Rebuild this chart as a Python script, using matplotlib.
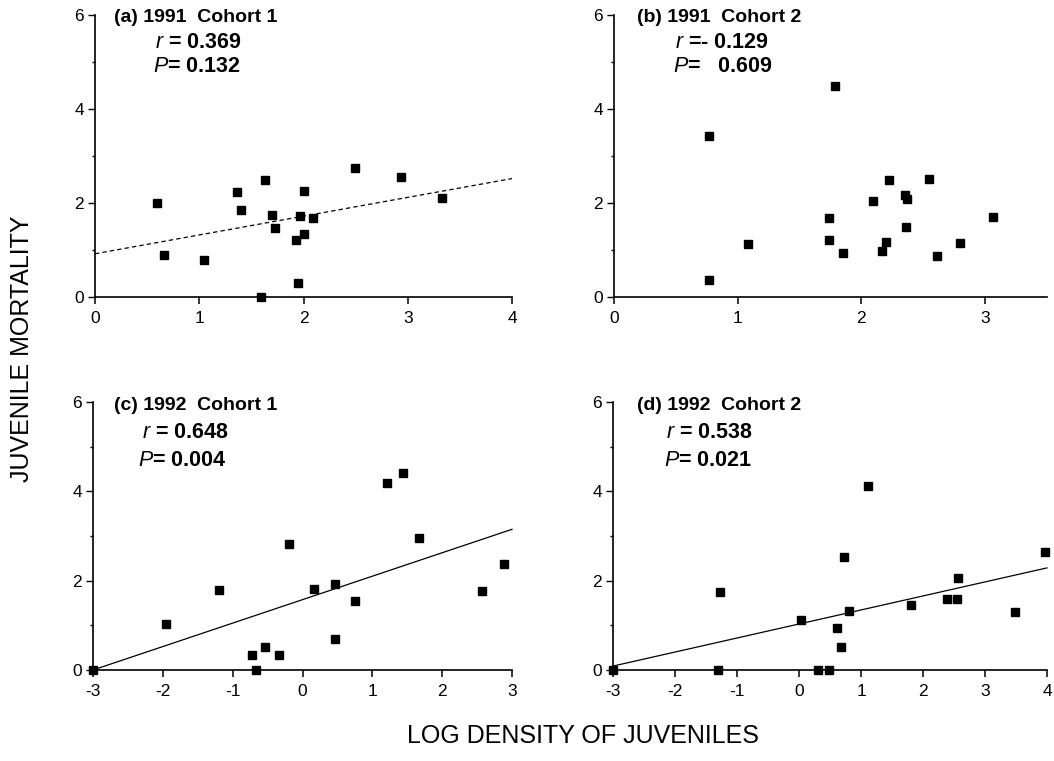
import matplotlib
matplotlib.use('Agg')
import matplotlib.pyplot as plt
import numpy as np

plt.rcParams['font.family'] = ['Liberation Sans', 'DejaVu Sans']
plt.rcParams['mathtext.fontset'] = 'custom'
plt.rcParams['mathtext.rm'] = 'Liberation Sans'
plt.rcParams['mathtext.it'] = 'Liberation Sans:italic'
plt.rcParams['mathtext.bf'] = 'Liberation Sans:bold'

# (a) 1991 Cohort 1
x_a = [0.59, 0.66, 1.05, 1.36, 1.40, 1.63, 1.70, 1.73, 1.59, 1.93, 1.95, 1.97,
       2.00, 2.00, 2.09, 2.49, 2.94, 3.33]
y_a = [2.01, 0.90, 0.78, 2.23, 1.86, 2.50, 1.74, 1.47, 0.00, 1.21, 0.29, 1.72,
       2.26, 1.34, 1.69, 2.75, 2.55, 2.10]
fit_a = (0.92, 0.40)  # intercept, slope

# (b) 1991 Cohort 2
x_b = [0.77, 0.77, 1.08, 1.79, 1.74, 1.74, 1.85, 2.09, 2.17, 2.20, 2.22, 2.35,
       2.37, 2.36, 2.55, 2.61, 2.80, 3.06]
y_b = [3.43, 0.36, 1.12, 4.49, 1.69, 1.22, 0.94, 2.05, 0.97, 1.16, 2.48, 2.16,
       2.09, 1.49, 2.52, 0.87, 1.15, 1.71]

# (c) 1992 Cohort 1
x_c = [-3.00, -1.96, -1.19, -0.73, -0.66, -0.53, -0.33, -0.19, 0.16, 0.47, 0.47,
       0.75, 1.21, 1.44, 1.67, 2.57, 2.89]
y_c = [0.00, 1.03, 1.80, 0.33, 0.00, 0.52, 0.34, 2.81, 1.82, 1.93, 0.69,
       1.54, 4.19, 4.42, 2.95, 1.77, 2.37]
fit_c = (1.575, 0.525)

# (d) 1992 Cohort 2
x_d = [-3.00, -1.30, -1.27, 0.03, 0.30, 0.49, 0.62, 0.67, 0.72, 0.80, 1.12,
       1.81, 2.39, 2.55, 2.56, 3.48, 3.96]
y_d = [0.00, 0.00, 1.74, 1.11, 0.00, 0.00, 0.93, 0.51, 2.53, 1.31, 4.13,
       1.46, 1.59, 1.59, 2.05, 1.29, 2.64]
fit_d = (1.03, 0.314)

W, H = 1054, 761
fig = plt.figure(figsize=(W / 100, H / 100), dpi=100)


def px_axes(left, right, bottom, top):
    return fig.add_axes([left / W, 1 - bottom / H, (right - left) / W, (bottom - top) / H])


def style(ax, xlim, xticks):
    ax.set_xlim(*xlim)
    ax.set_ylim(0, 6)
    for s in ('top', 'right'):
        ax.spines[s].set_visible(False)
    for s in ('left', 'bottom'):
        ax.spines[s].set_linewidth(1.2)
    ax.set_xticks(xticks)
    ax.set_xticklabels([str(t) for t in xticks])
    ax.set_yticks([0, 2, 4, 6])
    ax.set_yticks([1, 3, 5], minor=True)
    ax.tick_params(axis='x', direction='out', length=5, width=1.1, labelsize=12.5, pad=5)
    ax.tick_params(axis='y', which='major', direction='out', length=5, width=1.0,
                   labelsize=12.5, pad=3)
    ax.tick_params(axis='y', which='minor', direction='out', length=2.5, width=1.0)


def scatter(ax, x, y):
    ax.plot(x, y, 's', color='black', ms=5.3, clip_on=False, zorder=3)


def fit_line(ax, fit, xlim, ls):
    xs = np.array(xlim, dtype=float)
    ax.plot(xs, fit[0] + fit[1] * xs, color='black', lw=0.9, ls=ls, clip_on=False)


def labels(title, rtxt, ptxt, tpos, rpos, ppos):
    fig.text(tpos[0] / W, 1 - tpos[1] / H, title, fontsize=14, fontweight='bold',
             ha='left', va='center')
    fig.text(rpos[0] / W, 1 - rpos[1] / H, rtxt, fontsize=15.5, fontweight='bold',
             ha='left', va='center')
    fig.text(ppos[0] / W, 1 - ppos[1] / H, ptxt, fontsize=15.5, fontweight='bold',
             ha='left', va='center')


ax_a = px_axes(95, 512, 297, 15)
style(ax_a, (0, 4), [0, 1, 2, 3, 4])
fit_line(ax_a, fit_a, (0, 4), (0, (3.5, 2.5)))
scatter(ax_a, x_a, y_a)

ax_b = px_axes(614, 1047, 297, 15)
style(ax_b, (0, 3.5), [0, 1, 2, 3])
scatter(ax_b, x_b, y_b)

ax_c = px_axes(93, 512, 670, 402)
style(ax_c, (-3, 3), [-3, -2, -1, 0, 1, 2, 3])
fit_line(ax_c, fit_c, (-3, 3), '-')
scatter(ax_c, x_c, y_c)

ax_d = px_axes(613, 1047, 670, 402)
style(ax_d, (-3, 4), [-3, -2, -1, 0, 1, 2, 3, 4])
fit_line(ax_d, fit_d, (-3, 4), '-')
scatter(ax_d, x_d, y_d)

labels('(a) 1991  Cohort 1', r'$\mathit{r}$ = 0.369', r'$\mathit{P}$= 0.132',
       (114, 18), (155, 43), (153, 67))
labels('(b) 1991  Cohort 2', r'$\mathit{r}$ =- 0.129', r'$\mathit{P}$=   0.609',
       (637, 18), (675, 43), (673, 67))
labels('(c) 1992  Cohort 1', r'$\mathit{r}$ = 0.648', r'$\mathit{P}$= 0.004',
       (114, 405), (142, 433), (138, 460))
labels('(d) 1992  Cohort 2', r'$\mathit{r}$ = 0.538', r'$\mathit{P}$= 0.021',
       (637, 405), (666, 433), (664, 460))

fig.text(22 / W, 1 - 349 / H, 'JUVENILE MORTALITY', rotation=90, fontsize=18,
         ha='center', va='center')
fig.text(583 / W, 1 - 736 / H, 'LOG DENSITY OF JUVENILES', fontsize=18,
         ha='center', va='center')

fig.savefig('out.png', dpi=100)
